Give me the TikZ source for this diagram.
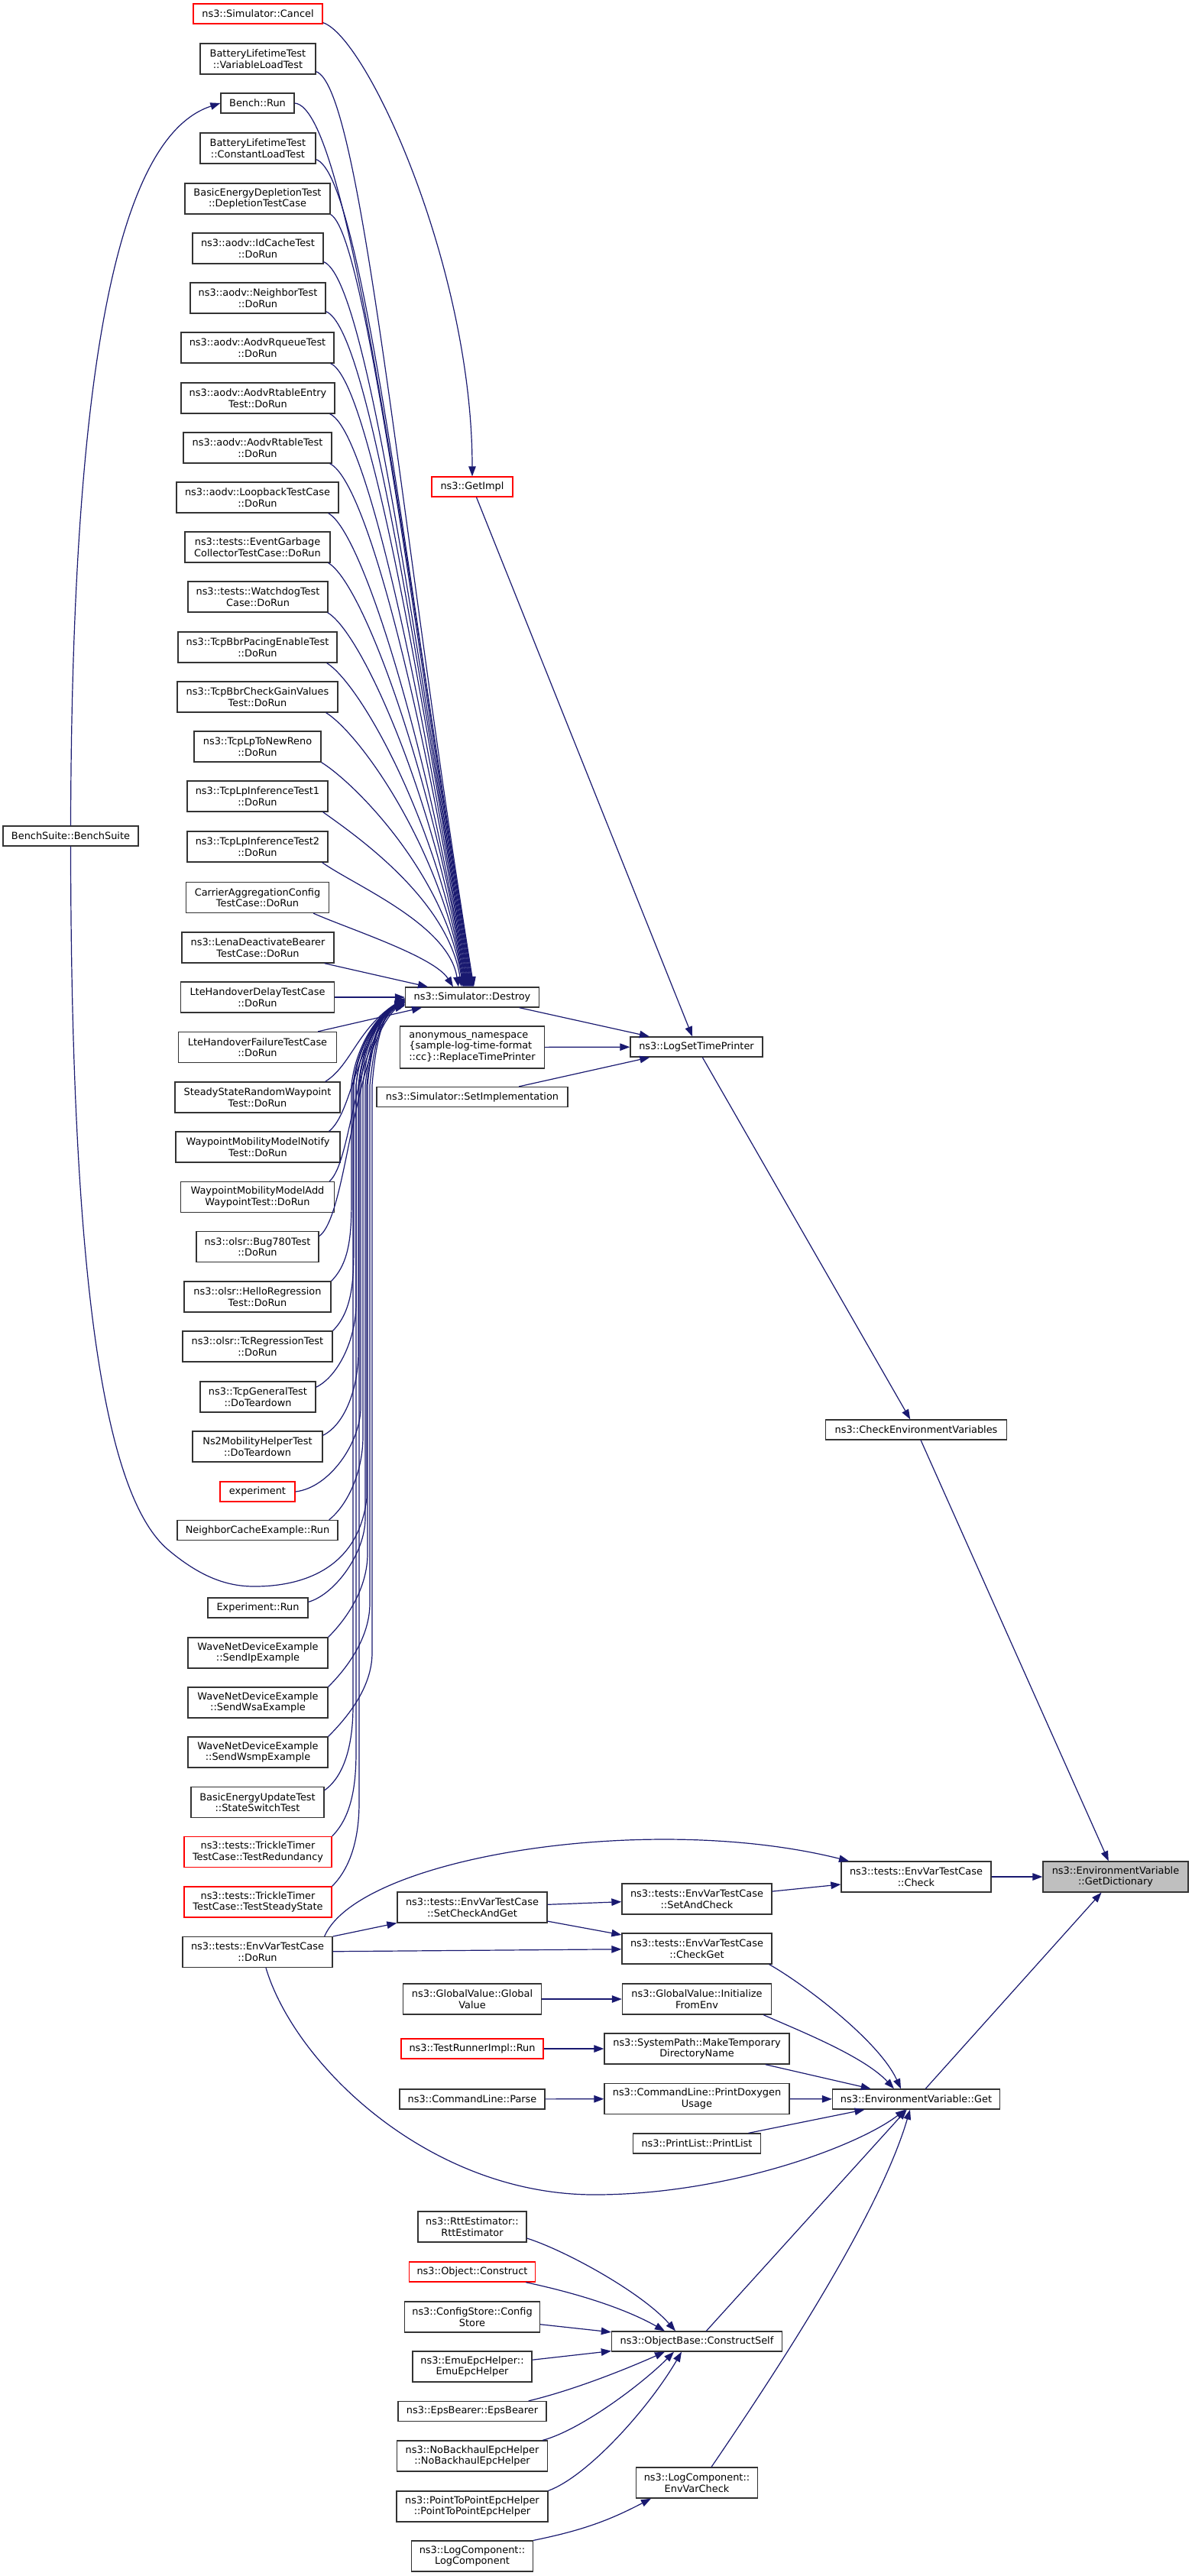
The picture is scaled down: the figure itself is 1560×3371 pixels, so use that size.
\documentclass[tikz,border=0pt]{standalone}
\usepackage{fontspec}
\setmainfont{DejaVu Sans}
\usetikzlibrary{arrows.meta}
\definecolor{edgecol}{HTML}{191970}
\definecolor{redb}{HTML}{FF0000}
\definecolor{focusfill}{HTML}{BFBFBF}
\definecolor{boxline}{HTML}{333333}
\newcommand\nodefont{\fontsize{12.9}{14.6}\selectfont}
\tikzset{
  nbox/.style={draw=boxline, line width=1.3pt, fill=white, font=\nodefont, align=center,
    inner xsep=3pt, inner ysep=1pt, minimum height=26pt, text=black},
  h2/.style={minimum height=40pt},
  h3/.style={minimum height=55pt},
  redn/.style={draw=redb},
  focusn/.style={fill=focusfill},
  conn/.style={draw=edgecol, line width=1.2pt, -{Triangle[length=13pt,width=9.5pt]}}
}
\begin{document}
\begin{tikzpicture}[x=1pt,y=-1pt]
\fill[white] (0,0) rectangle (1560,3371);
\useasboundingbox (0,0) rectangle (1560,3371);

% ---------- left column ----------
\node[nbox,redn,minimum width=169pt] (cancel) at (337.5,18) {ns3::Simulator::Cancel};
\node[nbox,h2,minimum width=151pt] (varload) at (337.5,77) {BatteryLifetimeTest\\::VariableLoadTest};
\node[nbox,minimum width=96pt] (benchrun) at (337,135) {Bench::Run};
\node[nbox,h2,minimum width=151pt] (constload) at (337.5,194) {BatteryLifetimeTest\\::ConstantLoadTest};
\node[nbox,h2,minimum width=190pt] (depletion) at (337,260) {BasicEnergyDepletionTest\\::DepletionTestCase};
\node[nbox,h2,minimum width=171pt] (idcache) at (337.5,325) {ns3::aodv::IdCacheTest\\::DoRun};
\node[nbox,h2,minimum width=177pt] (neighbor) at (337.5,390) {ns3::aodv::NeighborTest\\::DoRun};
\node[nbox,h2,minimum width=200pt] (rqueue) at (337,455) {ns3::aodv::AodvRqueueTest\\::DoRun};
\node[nbox,h2,minimum width=201pt] (rtableentry) at (337.5,521) {ns3::aodv::AodvRtableEntry\\Test::DoRun};
\node[nbox,h2,minimum width=194pt] (rtabletest) at (337,586) {ns3::aodv::AodvRtableTest\\::DoRun};
\node[nbox,h2,minimum width=212pt] (loopback) at (337,651) {ns3::aodv::LoopbackTestCase\\::DoRun};
\node[nbox,h2,minimum width=190pt] (eventgarbage) at (337,716) {ns3::tests::EventGarbage\\CollectorTestCase::DoRun};
\node[nbox,h2,minimum width=183pt] (watchdog) at (337.5,781) {ns3::tests::WatchdogTest\\Case::DoRun};
\node[nbox,h2,minimum width=208pt] (bbrpacing) at (337,847) {ns3::TcpBbrPacingEnableTest\\::DoRun};
\node[nbox,h2,minimum width=210pt] (bbrgain) at (337,912) {ns3::TcpBbrCheckGainValues\\Test::DoRun};
\node[nbox,h2,minimum width=166pt] (lpnewreno) at (337,977) {ns3::TcpLpToNewReno\\::DoRun};
\node[nbox,h2,minimum width=184pt] (lpinf1) at (337,1042) {ns3::TcpLpInferenceTest1\\::DoRun};
\node[nbox,h2,minimum width=184pt] (lpinf2) at (337,1108) {ns3::TcpLpInferenceTest2\\::DoRun};
\node[nbox,h2,minimum width=187pt] (carrier) at (337,1174.5) {CarrierAggregationConfig\\TestCase::DoRun};
\node[nbox,h2,minimum width=199pt] (lena) at (337.5,1240) {ns3::LenaDeactivateBearer\\TestCase::DoRun};
\node[nbox,h2,minimum width=201pt] (ltedelay) at (337,1305) {LteHandoverDelayTestCase\\::DoRun};
\node[nbox,h2,minimum width=207pt] (ltefail) at (337,1370.5) {LteHandoverFailureTestCase\\::DoRun};
\node[nbox,h2,minimum width=216pt] (steadystate) at (337,1436) {SteadyStateRandomWaypoint\\Test::DoRun};
\node[nbox,h2,minimum width=215pt] (wpnotify) at (337.5,1501) {WaypointMobilityModelNotify\\Test::DoRun};
\node[nbox,h2,minimum width=201pt] (wpadd) at (337,1566.5) {WaypointMobilityModelAdd\\WaypointTest::DoRun};
\node[nbox,h2,minimum width=160pt] (bug780) at (337,1631.5) {ns3::olsr::Bug780Test\\::DoRun};
\node[nbox,h2,minimum width=192pt] (hello) at (337,1697) {ns3::olsr::HelloRegression\\Test::DoRun};
\node[nbox,h2,minimum width=196pt] (tcreg) at (337,1762) {ns3::olsr::TcRegressionTest\\::DoRun};
\node[nbox,h2,minimum width=151pt] (tcpgeneral) at (337.5,1828) {ns3::TcpGeneralTest\\::DoTeardown};
\node[nbox,h2,minimum width=170pt] (ns2mob) at (337,1893) {Ns2MobilityHelperTest\\::DoTeardown};
\node[nbox,redn,minimum width=98pt] (experiment) at (337,1952) {experiment};
\node[nbox,minimum width=210pt] (ncache) at (337,2002.5) {NeighborCacheExample::Run};
\node[nbox,minimum width=131pt] (exprun) at (337.5,2104) {Experiment::Run};
\node[nbox,h2,minimum width=183pt] (sendip) at (337.5,2163) {WaveNetDeviceExample\\::SendIpExample};
\node[nbox,h2,minimum width=183pt] (sendwsa) at (337.5,2228) {WaveNetDeviceExample\\::SendWsaExample};
\node[nbox,h2,minimum width=183pt] (sendwsmp) at (337.5,2293) {WaveNetDeviceExample\\::SendWsmpExample};
\node[nbox,h2,minimum width=174pt] (energyupdate) at (337,2358.5) {BasicEnergyUpdateTest\\::StateSwitchTest};
\node[nbox,h2,redn,minimum width=193pt] (redundancy) at (337.5,2423.5) {ns3::tests::TrickleTimer\\TestCase::TestRedundancy};
\node[nbox,h2,redn,minimum width=193pt] (steadystate2) at (337.5,2489) {ns3::tests::TrickleTimer\\TestCase::TestSteadyState};
\node[nbox,h2,minimum width=196pt] (envdorun) at (337,2554.5) {ns3::tests::EnvVarTestCase\\::DoRun};
\node[nbox,minimum width=177pt] (benchsuite) at (92.5,1094) {BenchSuite::BenchSuite};

% ---------- middle column ----------
\node[nbox,redn,minimum width=106pt] (getimpl) at (618,637) {ns3::GetImpl};
\node[nbox,minimum width=175pt] (destroy) at (618,1305) {ns3::Simulator::Destroy};
\node[nbox,h3,minimum width=189pt,align=left] (anon) at (618,1370.5) {anonymous\_namespace\\\{sample-log-time-format\\::cc\}::ReplaceTimePrinter};
\node[nbox,minimum width=250pt] (setimpl) at (618,1435.5) {ns3::Simulator::SetImplementation};
\node[nbox,h2,minimum width=196pt] (setcheckandget) at (618,2496) {ns3::tests::EnvVarTestCase\\::SetCheckAndGet};
\node[nbox,h2,minimum width=181pt] (globalvalue) at (618,2616) {ns3::GlobalValue::Global\\Value};
\node[nbox,redn,minimum width=186pt] (testrunner) at (618,2681) {ns3::TestRunnerImpl::Run};
\node[nbox,minimum width=190pt] (cmdparse) at (618,2747) {ns3::CommandLine::Parse};
\node[nbox,h2,minimum width=142pt] (rtt) at (618,2914) {ns3::RttEstimator::\\RttEstimator};
\node[nbox,redn,minimum width=165pt] (objconstruct) at (618,2973) {ns3::Object::Construct};
\node[nbox,h2,minimum width=177pt] (configstore) at (618,3032) {ns3::ConfigStore::Config\\Store};
\node[nbox,h2,minimum width=156pt] (emuepc) at (618,3097) {ns3::EmuEpcHelper::\\EmuEpcHelper};
\node[nbox,minimum width=194pt] (epsbearer) at (618,3155.5) {ns3::EpsBearer::EpsBearer};
\node[nbox,h2,minimum width=197pt] (nobackhaul) at (618,3214) {ns3::NoBackhaulEpcHelper\\::NoBackhaulEpcHelper};
\node[nbox,h2,minimum width=198pt] (p2p) at (618,3280) {ns3::PointToPointEpcHelper\\::PointToPointEpcHelper};
\node[nbox,h2,minimum width=159pt] (logcomp) at (618,3345) {ns3::LogComponent::\\LogComponent};

% ---------- right-middle column ----------
\node[nbox,minimum width=173pt] (logsettime) at (911.5,1370) {ns3::LogSetTimePrinter};
\node[nbox,h2,minimum width=196pt] (setandcheck) at (912,2485) {ns3::tests::EnvVarTestCase\\::SetAndCheck};
\node[nbox,h2,minimum width=196pt] (checkget) at (912,2550) {ns3::tests::EnvVarTestCase\\::CheckGet};
\node[nbox,h2,minimum width=195pt] (initenv) at (912,2616) {ns3::GlobalValue::Initialize\\FromEnv};
\node[nbox,h2,minimum width=242pt] (maketemp) at (912,2681) {ns3::SystemPath::MakeTemporary\\DirectoryName};
\node[nbox,h2,minimum width=242pt] (printdoxy) at (912,2746.5) {ns3::CommandLine::PrintDoxygen\\Usage};
\node[nbox,minimum width=167pt] (printlist) at (912,2805) {ns3::PrintList::PrintList};
\node[nbox,minimum width=223pt] (constructself) at (912,3064) {ns3::ObjectBase::ConstructSelf};
\node[nbox,h2,minimum width=159pt] (envvarcheck) at (912,3249) {ns3::LogComponent::\\EnvVarCheck};

% ---------- right columns ----------
\node[nbox,minimum width=237pt] (checkenv) at (1199,1871) {ns3::CheckEnvironmentVariables};
\node[nbox,h2,minimum width=196pt] (check) at (1199,2456) {ns3::tests::EnvVarTestCase\\::Check};
\node[nbox,minimum width=219pt] (get) at (1199,2747) {ns3::EnvironmentVariable::Get};
\node[nbox,h2,focusn,minimum width=190pt] (getdict) at (1460,2456) {ns3::EnvironmentVariable\\::GetDictionary};

% ---------- edges: upper callers of Destroy ----------
\draw[conn] ([yshift=4pt]varload.south east) .. controls +(60,20) and +(-96,-598) .. ([xshift=2pt]destroy.north);
\draw[conn] (benchrun.east) .. controls +(70,5) and +(-92,-578) .. ([xshift=1pt]destroy.north);
\draw[conn] ([yshift=6pt]constload.south east) .. controls +(60,20) and +(-86,-539) .. (destroy.north);
\draw[conn] (depletion.south east) .. controls +(45,25) and +(-81,-506) .. ([xshift=-1pt]destroy.north);
\draw[conn] ([yshift=3pt]idcache.south east) .. controls +(55,22) and +(-76,-473) .. ([xshift=-2pt]destroy.north);
\draw[conn] ([yshift=3pt]neighbor.south east) .. controls +(55,22) and +(-71,-441) .. ([xshift=-3pt]destroy.north);
\draw[conn] ([xshift=-5pt]rqueue.south east) .. controls +(50,22) and +(-65,-408) .. ([xshift=-4pt]destroy.north);
\draw[conn] ([xshift=-7pt]rtableentry.south east) .. controls +(50,22) and +(-60,-375) .. ([xshift=-5pt]destroy.north);
\draw[conn] ([xshift=-3pt]rtabletest.south east) .. controls +(50,24) and +(-55,-343) .. ([xshift=-6pt]destroy.north);
\draw[conn] ([xshift=-14pt]loopback.south east) .. controls +(45,24) and +(-50,-310) .. ([xshift=-7pt]destroy.north);
\draw[conn] ([xshift=-3pt]eventgarbage.south east) .. controls +(45,26) and +(-44,-278) .. ([xshift=-8pt]destroy.north);
\draw[conn] ([xshift=-1pt]watchdog.south east) .. controls +(45,26) and +(-39,-245) .. ([xshift=-9pt]destroy.north);
\draw[conn] ([xshift=-14pt]bbrpacing.south east) .. controls +(45,28) and +(-34,-212) .. ([xshift=-10pt]destroy.north);
\draw[conn] ([xshift=-16pt]bbrgain.south east) .. controls +(45,28) and +(-29,-180) .. ([xshift=-11pt]destroy.north);
\draw[conn] (lpnewreno.south east) .. controls +(45,28) and +(-24,-147) .. ([xshift=-12pt]destroy.north);
\draw[conn] ([xshift=-7pt]lpinf1.south east) .. controls +(42,30) and +(-18,-115) .. ([xshift=-14pt]destroy.north);
\draw[conn] ([xshift=-8pt]lpinf2.south east) .. controls +(42,30) and +(-13,-82) .. ([xshift=-18pt]destroy.north);
\draw[conn] ([xshift=-21pt]carrier.south east) .. controls +(45,20) and +(-25,-40) .. ([xshift=-25pt]destroy.north);
\draw[conn] ([xshift=-13pt]lena.south east) -- ([xshift=-58pt]destroy.north);
\draw[conn] (ltedelay) -- (destroy);
\draw[conn] ([xshift=-25pt]ltefail.north east) -- ([xshift=-66pt]destroy.south);

% ---------- edges: lower callers of Destroy ----------
\draw[conn] ([xshift=-20pt]steadystate.north east) .. controls +(34,-21) and (468,1345) .. ([yshift=-1pt]destroy.west);
\draw[conn] ([xshift=-15pt]wpnotify.north east) .. controls +(32,-26) and (464,1358) .. ([yshift=-2pt]destroy.west);
\draw[conn] ([xshift=-7pt]wpadd.north east) .. controls +(30,-26) and (462,1365) .. ([yshift=-3pt]destroy.west);
\draw[conn] ([yshift=-7pt]bug780.north east) .. controls +(38,-28) and (460,1372) .. ([yshift=-4pt]destroy.west);
\draw[conn] (hello.north east) .. controls +(25,-25) and (460,1612) .. (460,1567) -- (460,1420) .. controls (465,1370) and (495,1325) .. ([yshift=-5pt]destroy.west);
\draw[conn] (tcreg.north east) .. controls +(25,-25) and (463,1677) .. (463,1632) -- (463,1420) .. controls (468,1370) and (495,1325) .. ([yshift=-6pt]destroy.west);
\draw[conn] ([yshift=-8pt]tcpgeneral.north east) .. controls +(30,-15) and (466,1751) .. (466,1706) -- (466,1420) .. controls (471,1370) and (495,1325) .. ([yshift=-7pt]destroy.west);
\draw[conn] ([yshift=-6pt]ns2mob.north east) .. controls +(30,-15) and (469,1814) .. (469,1769) -- (469,1420) .. controls (474,1370) and (495,1325) .. ([yshift=-8pt]destroy.west);
\draw[conn] (experiment.east) .. controls +(45,-5) and (472,1887) .. (472,1842) -- (472,1420) .. controls (477,1370) and (495,1325) .. ([yshift=-9pt]destroy.west);
\draw[conn] ([xshift=-12pt]ncache.north east) .. controls +(25,-20) and (475,1925) .. (475,1880) -- (475,1420) .. controls (480,1370) and (495,1325) .. ([yshift=-10pt]destroy.west);
\draw[conn] ([yshift=-6pt]exprun.north east) .. controls +(35,-10) and (478,2032) .. (478,1987) -- (478,1420) .. controls (483,1370) and (497,1325) .. ([yshift=-3pt]destroy.west);
\draw[conn] (sendip.north east) .. controls +(25,-25) and (481,2078) .. (481,2033) -- (481,1420) .. controls (486,1370) and (497,1325) .. ([yshift=-5pt]destroy.west);
\draw[conn] (sendwsa.north east) .. controls +(25,-25) and (484,2143) .. (484,2098) -- (484,1420) .. controls (489,1370) and (499,1325) .. ([yshift=-7pt]destroy.west);
\draw[conn] (sendwsmp.north east) .. controls +(25,-25) and (487,2208) .. (487,2163) -- (487,1420) .. controls (491,1370) and (500,1325) .. ([yshift=-9pt]destroy.west);
\draw[conn] ([yshift=-5pt]energyupdate.north east) .. controls +(28,-20) and (462,2278) .. (462,2233) -- (462,1420) .. controls (467,1370) and (495,1325) .. ([yshift=-11pt]destroy.west);
\draw[conn] (redundancy.north east) .. controls +(25,-25) and (466,2338) .. (466,2293) -- (466,1420) .. controls (471,1370) and (495,1325) .. ([yshift=-4pt]destroy.west);
\draw[conn] (steadystate2.north east) .. controls +(25,-25) and (470,2404) .. (470,2359) -- (470,1420) .. controls (475,1370) and (495,1325) .. ([yshift=-6pt]destroy.west);

% ---------- BenchSuite ----------
\draw[conn] (benchsuite.north) .. controls (94,500) and (150,180) .. (benchrun.west);
\draw[conn] (benchsuite.south) .. controls (93,1700) and (140,1960) .. (220,2028) .. controls (265,2066) and (300,2076) .. (333,2076) .. controls (400,2076) and (470,2050) .. (480,1960) -- (480,1420) .. controls (485,1370) and (497,1325) .. ([yshift=-6pt]destroy.west);

% ---------- LogSetTimePrinter chain ----------
\draw[conn] ([yshift=2pt]cancel.south east) .. controls (480,48) and (618,350) .. (getimpl.north);
\draw[conn] (getimpl) -- (logsettime);
\draw[conn] (destroy) -- (logsettime);
\draw[conn] (anon) -- (logsettime);
\draw[conn] (setimpl) -- (logsettime);
\draw[conn] (logsettime) -- (checkenv);
\draw[conn] (checkenv) -- (getdict);
\draw[conn] (check) -- (getdict);
\draw[conn] (get) -- (getdict);

% ---------- EnvVarTestCase ----------
\draw[conn] (setandcheck) -- (check);
\draw[conn] (setcheckandget) -- (setandcheck);
\draw[conn] (setcheckandget) -- (checkget);
\draw[conn] (envdorun) -- (setcheckandget);
\draw[conn] (envdorun) -- (checkget);
\draw[conn] ([xshift=-11pt]envdorun.north east) .. controls (470,2430) and (850,2370) .. ([xshift=-88pt]check.north);
\draw[conn] ([xshift=11pt]envdorun.south) .. controls (385,2700) and (560,2872) .. (778,2872) .. controls (950,2872) and (1120,2810) .. ([xshift=-14pt]get.south);

% ---------- callers of Get ----------
\draw[conn] ([xshift=-4pt]checkget.south east) .. controls (1050,2595) and (1150,2670) .. ([xshift=-20pt]get.north);
\draw[conn] ([xshift=-11pt]initenv.south east) .. controls (1040,2655) and (1130,2690) .. ([xshift=-29pt]get.north);
\draw[conn] (globalvalue) -- (initenv);
\draw[conn] (testrunner) -- (maketemp);
\draw[conn] (cmdparse) -- (printdoxy);
\draw[conn] (maketemp) -- (get);
\draw[conn] (printdoxy) -- (get);
\draw[conn] (printlist) -- (get);
\draw[conn] (constructself) -- (get);
\draw[conn] ([xshift=19pt]envvarcheck.north) .. controls (1015,3105) and (1150,2900) .. ([xshift=-8pt]get.south);
\draw[conn] (logcomp.north east) to[bend right=8] ([xshift=-60pt]envvarcheck.south);

% ---------- callers of ConstructSelf ----------
\draw[conn] ([yshift=-15pt]rtt.east) .. controls (740,2945) and (840,3000) .. ([xshift=-28pt]constructself.north);
\draw[conn] ([xshift=-13pt]objconstruct.south east) .. controls (760,3002) and (820,3022) .. ([xshift=-42pt]constructself.north);
\draw[conn] (configstore) -- (constructself);
\draw[conn] (emuepc) -- (constructself);
\draw[conn] ([xshift=-24pt]epsbearer.north east) .. controls (750,3128) and (820,3100) .. ([xshift=-42pt]constructself.south);
\draw[conn] ([xshift=-7pt]nobackhaul.north east) .. controls (760,3180) and (840,3120) .. ([xshift=-30pt]constructself.south);
\draw[conn] (p2p.north east) .. controls (770,3240) and (850,3150) .. ([xshift=-20pt]constructself.south);
\end{tikzpicture}
\end{document}
